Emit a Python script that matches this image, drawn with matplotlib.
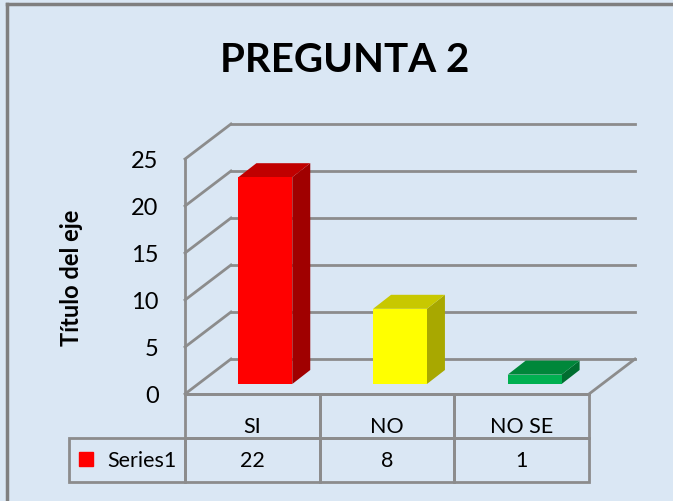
import matplotlib
matplotlib.use("Agg")
import matplotlib.pyplot as plt
from matplotlib.patches import Polygon
from matplotlib.lines import Line2D

categories = ["SI", "NO", "NO SE"]
values = [22, 8, 1]
series_name = "Series1"
y_ticks = [0, 5, 10, 15, 20, 25]

front_colors = ["#ff0000", "#ffff00", "#00b050"]
top_colors = ["#c00000", "#c8c800", "#00873a"]
side_colors = ["#a00000", "#a8a800", "#006e30"]

bg = "#dae7f4"
grid_c = "#8c8c8c"
font = "Lato"

W, H = 673, 502
fig = plt.figure(figsize=(W / 100, H / 100), dpi=100, facecolor=bg)

# front plane of the 3d box
ax_l, ax_r, ax_b, ax_t = 185, 589, 395, 160
ax = fig.add_axes([ax_l / W, 1 - ax_b / H, (ax_r - ax_l) / W, (ax_b - ax_t) / H])
ax.set_facecolor("none")
ax.set_xlim(0, len(categories))
ax.set_ylim(0, y_ticks[-1])
for s in ax.spines.values():
    s.set_visible(False)
ax.set_xticks([])
ax.set_yticks(y_ticks)
ax.tick_params(axis="y", length=0, pad=19, labelsize=17)
for lab in ax.get_yticklabels():
    lab.set_fontfamily(font)
ax.set_ylabel("Título del eje", fontsize=17, fontweight="bold", family=font)
ax.yaxis.set_label_coords((83 - ax_l) / (ax_r - ax_l), 0.5)

# pixel -> data conversion for the depth offsets
px_x = len(categories) / (ax_r - ax_l)
px_y = y_ticks[-1] / (ax_b - ax_t)
back = (46 * px_x, 35 * px_y)
bar_front = (13 * px_x, 10 * px_y)
bar_back = (31 * px_x, 24 * px_y)

# left wall, back wall gridlines, floor
ax.plot([0, 0], [0, y_ticks[-1]], color=grid_c, lw=2, clip_on=False)
for t in y_ticks:
    ax.plot([0, back[0]], [t, t + back[1]], color=grid_c, lw=2, clip_on=False)
    ax.plot([back[0], len(categories) + back[0]], [t + back[1], t + back[1]],
            color=grid_c, lw=2, clip_on=False)
ax.plot([0, len(categories)], [0, 0], color=grid_c, lw=2, clip_on=False)
ax.plot([len(categories), len(categories) + back[0]], [0, back[1]],
        color=grid_c, lw=2, clip_on=False)

# 3d bars
bw = 0.4
for i, v in enumerate(values):
    x0 = i + 0.5 - bw / 2
    x1 = x0 + bw
    fx, fy = bar_front
    bx, by = bar_back
    front = Polygon([(x0 + fx, fy), (x1 + fx, fy), (x1 + fx, v + fy), (x0 + fx, v + fy)],
                    closed=True, fc=front_colors[i], ec="none", clip_on=False, zorder=3)
    side = Polygon([(x1 + fx, fy), (x1 + bx, by), (x1 + bx, v + by), (x1 + fx, v + fy)],
                   closed=True, fc=side_colors[i], ec="none", clip_on=False, zorder=3)
    top = Polygon([(x0 + fx, v + fy), (x1 + fx, v + fy), (x1 + bx, v + by), (x0 + bx, v + by)],
                  closed=True, fc=top_colors[i], ec="none", clip_on=False, zorder=3)
    for p in (side, top, front):
        ax.add_patch(p)

# data table below the floor
tbl_left, tbl_bottom = 69, 483
cell_text = [[""] + categories, [series_name] + [str(v) for v in values]]
label_w = ax_l - tbl_left
col_w = (ax_r - ax_l) / len(categories)
widths = [label_w] + [col_w] * len(categories)
widths = [w / sum(widths) for w in widths]
x_a = (tbl_left - ax_l) / (ax_r - ax_l)
y_a = (ax_b - tbl_bottom) / (ax_b - ax_t)
tbl = ax.table(cellText=cell_text, colWidths=widths, cellLoc="center",
               bbox=[x_a, y_a, 1 - x_a, -y_a])
tbl.auto_set_font_size(False)
for (r, c), cell in tbl.get_celld().items():
    cell.set_facecolor("none")
    cell.set_edgecolor(grid_c)
    cell.set_linewidth(2)
    cell.get_text().set_fontsize(15.5)
    cell.get_text().set_fontfamily(font)
    if r == 0 and c == 0:
        cell.visible_edges = "open"
    if r == 0 and c > 0:
        cell.get_text().set_va("top")
    if r == 1 and c == 0:
        cell.get_text().set_ha("right")
        cell.PAD = 0.07
# legend key in the row label cell
ax.plot([(85.5 - ax_l) * px_x], [-(460 - ax_b) * px_y], marker="s", ms=10.5,
        color=front_colors[0], clip_on=False, zorder=4)

fig.text(345 / W, 1 - 60 / H, "PREGUNTA 2", ha="center", va="center",
         fontsize=29, fontweight="bold", family=font)

# chart area border (top and left visible)
fig.add_artist(Line2D([7 / W, 7 / W], [0, 1 - 5 / H], color="#7f7f7f", lw=2.5))
fig.add_artist(Line2D([7 / W, 1], [1 - 5 / H, 1 - 5 / H], color="#7f7f7f", lw=2.5))

fig.savefig("out.png", dpi=100, facecolor=bg)
